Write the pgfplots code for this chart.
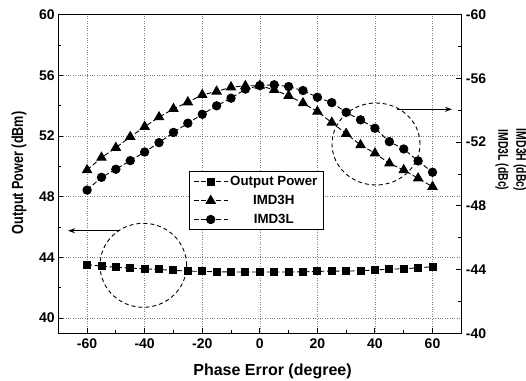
\documentclass[border=0pt]{standalone}
\usepackage{pgfplots}
\pgfplotsset{compat=1.18}
\usepackage{fontspec}
\setmainfont{Liberation Sans}
\usetikzlibrary{arrows.meta}

\pgfplotstableread{
x y
-60 43.52
-55 43.43
-50 43.35
-45 43.30
-40 43.25
-35 43.21
-30 43.15
-25 43.10
-20 43.08
-15 43.06
-10 43.04
-5 43.04
0 43.04
5 43.04
10 43.04
15 43.05
20 43.08
25 43.10
30 43.10
35 43.12
40 43.17
45 43.23
50 43.25
55 43.32
60 43.39
}\power

\pgfplotstableread{
x y
-60 -50.25
-55 -51.03
-50 -51.65
-45 -52.33
-40 -52.97
-35 -53.57
-30 -54.09
-25 -54.51
-20 -54.97
-15 -55.18
-10 -55.45
-5 -55.53
0 -55.55
5 -55.28
10 -54.91
15 -54.45
20 -53.92
25 -53.23
30 -52.53
35 -51.82
40 -51.30
45 -50.67
50 -50.25
55 -49.73
60 -49.20
}\imdh

\pgfplotstableread{
x y
-60 -48.99
-55 -49.79
-50 -50.30
-45 -50.84
-40 -51.38
-35 -51.97
-30 -52.61
-25 -53.19
-20 -53.75
-15 -54.28
-10 -54.76
-5 -55.33
0 -55.55
5 -55.60
10 -55.49
15 -55.24
20 -54.82
25 -54.48
30 -53.87
35 -53.40
40 -52.87
45 -52.03
50 -51.57
55 -50.82
60 -50.11
}\imdl

\begin{document}
\begin{tikzpicture}[x=1pt,y=1pt]
\useasboundingbox (0,0) rectangle (526,380);
\pgfplotsset{
  base/.style={
    scale only axis, width=403pt, height=318.6pt,
    at={(58.3pt,46.7pt)}, anchor=south west,
    xmin=-70, xmax=70,
    axis line style={line width=1.3pt},
    tick align=inside,
    major tick length=5pt, minor tick length=3pt,
    every tick/.style={black, line width=1pt},
    tick label style={font=\bfseries\fontsize{14}{16}\selectfont},
    /pgf/number format/assume math mode=true,
  },
  ser/.style={black, line width=0.9pt, dash pattern=on 5pt off 2.5pt, mark options={solid}},
}
\begin{axis}[base,
  ymin=39, ymax=60,
  xtick={-60,-40,...,60}, minor xtick={-50,-30,...,50},
  ytick={40,44,...,60}, minor ytick={42,46,...,58},
  xtick pos=bottom, ytick pos=left,
  grid=major,
  major grid style={gray, dotted, line width=0.6pt},
  xticklabel style={yshift=-2pt},
  yticklabel style={xshift=0pt},
]
\addplot[ser, mark=square*, mark size=3.5pt] table[x=x,y=y] {\power};
\end{axis}
\begin{axis}[base,
  ymin=-60, ymax=-40, y dir=reverse,
  axis x line=none, axis y line*=right,
  ytick={-60,-56,...,-40}, minor ytick={-58,-54,...,-42},
  yticklabel style={xshift=1pt},
  legend style={at={(0.324,0.509)}, anchor=north west, draw=black, line width=0.8pt,
    font=\bfseries\fontsize{13.3}{15}\selectfont, row sep=4pt, inner xsep=4pt, inner ysep=3pt},
  legend cell align=center,
  legend image code/.code={\draw[#1, mark repeat=2, mark phase=2] plot coordinates {(0pt,0pt)(17pt,0pt)(34pt,0pt)};},
]
\addlegendimage{ser, mark=square*, mark size=3.5pt}
\addlegendentry{Output Power}
\addplot[ser, mark=triangle*, mark size=5.3pt] table[x=x,y=y] {\imdh};
\addlegendentry{IMD3H}
\addplot[ser, mark=*, mark size=4.2pt] table[x=x,y=y] {\imdl};
\addlegendentry{IMD3L}
\end{axis}
% annotations
\draw[black, line width=0.9pt, dash pattern=on 4pt off 3pt] (143.3,114.7) ellipse [x radius=43.3, y radius=42];
\draw[black, line width=0.9pt, dash pattern=on 4pt off 3pt] (376,236) ellipse [x radius=44, y radius=41];
\draw[black, line width=1pt, -{Stealth[length=7pt,width=5pt]}] (120,149.3) -- (68,149.3);
\draw[black, line width=1pt, -{Stealth[length=7pt,width=5pt]}] (397,270.7) -- (452,270.7);
% labels
\node[anchor=base, font=\bfseries\fontsize{16}{18}\selectfont] at (272.5,5) {Phase Error (degree)};
\node[rotate=90, font=\bfseries\fontsize{16}{18}\selectfont] at (19,207) {\scalebox{0.79}[1]{Output Power (dBm)}};
\node[rotate=-90, font=\bfseries\fontsize{14}{18}\selectfont, align=center] at (511,220) {\scalebox{0.745}[1]{IMD3H (dBc)}\\\scalebox{0.745}[1]{IMD3L (dBc)}};
\end{tikzpicture}
\end{document}
